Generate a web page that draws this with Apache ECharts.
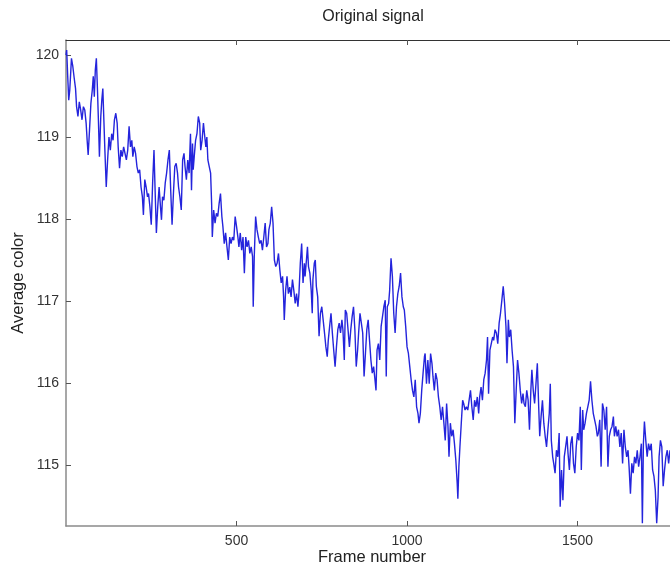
<!DOCTYPE html>
<html>
<head>
<meta charset="utf-8">
<script src="https://cdn.jsdelivr.net/npm/echarts@6/dist/echarts.min.js"></script>
<style>
html,body{margin:0;padding:0;background:#fff;}
#chart{width:670px;height:567px;}
</style>
</head>
<body>
<div id="chart"></div>
<script>
// Data: [frame, average colour]
var seg1 = [[0,120.00],[2,120.06],[5,119.74],[8,119.45],[11,119.57],[14,119.80],[16,119.96],[20,119.86],[24,119.72],[28,119.59],[31,119.37],[35,119.25],[39,119.43],[43,119.33],[47,119.21],[51,119.37],[55,119.33],[59,119.17],[62,118.96],[65,118.78],[69,119.09],[73,119.41],[77,119.57],[80,119.74],[83,119.49],[86,119.82],[89,119.96],[92,119.61],[95,119.21],[98,118.76],[102,119.25],[105,119.45],[108,119.59],[111,119.21],[114,118.84],[118,118.39],[122,118.72],[126,119.00],[130,118.84],[134,119.04],[138,118.96],[142,119.21],[146,119.29],[150,119.17],[153,118.88],[157,118.62],[161,118.84],[165,118.76],[169,118.88],[173,118.80],[177,118.72],[181,118.84],[185,119.13],[189,118.88],[193,118.96],[196,118.76],[200,118.88],[204,118.80],[208,118.64],[212,118.56],[216,118.60],[220,118.39],[224,118.27],[227,118.05],[231,118.48],[235,118.39],[239,118.27],[242,118.31],[246,118.15],[250,117.93],[254,118.44],[258,118.84],[261,118.39],[265,117.83],[269,118.15],[273,118.39],[277,118.15],[280,117.99],[283,118.27],[287,118.23],[291,118.44],[295,118.56],[299,118.72],[303,118.84],[307,118.35],[311,117.93],[315,118.31],[319,118.64],[323,118.68],[327,118.56],[330,118.39],[334,118.27],[338,118.11],[342,118.72],[346,118.80]];
var seg2 = [[349,118.64],[353,118.48],[357,118.72],[361,118.56],[365,119.04],[368,118.35],[371,118.92],[373,118.60],[376,118.76],[380,118.96],[384,119.04],[388,119.25],[392,119.17],[395,118.84],[399,118.96],[403,119.17],[406,119.04],[410,118.88],[413,119.00],[416,118.72],[420,118.64],[424,118.56],[427,118.19],[429,117.78],[433,118.11],[437,117.95],[441,118.07],[445,118.03],[449,118.19],[453,118.31],[457,118.03],[460,117.91],[464,117.70],[468,117.83],[472,117.66],[476,117.50],[480,117.78],[484,117.70],[488,117.78],[492,117.74],[496,118.03],[500,117.91],[504,117.78],[507,117.66],[511,117.83],[515,117.62],[519,117.78],[523,117.34],[527,117.78],[531,117.66],[535,117.74],[539,117.58],[543,117.66],[547,117.54],[549,116.93],[552,117.54],[556,118.03],[560,117.87],[564,117.78],[568,117.70],[572,117.74],[576,117.62],[580,117.78],[584,117.95],[588,117.66],[592,117.70],[595,117.87],[599,117.95],[603,118.15],[607,117.95],[611,117.50],[615,117.42],[619,117.46],[623,117.58],[627,117.38],[631,117.22],[635,117.30],[638,117.05],[640,116.77],[644,117.13],[648,117.30],[652,117.09],[656,117.17],[660,117.05],[664,117.26],[668,117.13],[672,116.97],[676,117.09],[680,116.93],[683,117.09],[687,117.46],[691,117.70],[695,117.22],[699,117.46]];
var seg3 = [[701,117.30],[705,117.50],[708,117.66],[711,117.42],[715,117.34],[719,117.13],[722,116.85],[724,117.26],[728,117.46],[731,117.50],[734,117.18],[738,117.05],[742,116.57],[746,116.85],[750,116.93],[754,116.77],[758,116.61],[762,116.44],[766,116.32],[769,116.52],[773,116.69],[777,116.85],[781,116.61],[785,116.40],[789,116.20],[793,116.44],[797,116.65],[801,116.73],[805,116.61],[809,116.77],[812,116.65],[816,116.28],[819,116.89],[823,116.85],[827,116.65],[831,116.44],[835,116.65],[839,116.81],[843,116.93],[847,116.65],[851,116.20],[855,116.40],[858,116.61],[862,116.85],[866,116.73],[870,116.61],[874,116.08],[878,116.36],[882,116.65],[886,116.77],[890,116.52],[894,116.28],[898,116.12],[902,116.20],[905,116.08],[909,115.91],[912,116.40],[916,116.48],[920,116.28],[924,116.69],[928,116.81],[932,116.93],[936,117.01],[939,116.08],[942,116.93],[946,116.97],[949,117.13],[953,117.52],[957,117.30],[961,116.85],[965,116.61],[969,116.93],[973,117.09],[977,117.18],[981,117.34],[985,117.05],[989,116.93],[992,116.89],[996,116.69],[1000,116.44],[1004,116.36],[1008,116.20],[1012,116.04],[1016,115.91],[1020,115.83],[1024,116.04],[1028,115.71],[1032,115.63],[1035,115.51],[1039,115.63],[1043,115.91],[1047,116.12],[1051,116.32]];
var seg4 = [[1053,116.36],[1057,115.99],[1061,116.28],[1065,115.99],[1069,116.36],[1073,116.24],[1076,116.08],[1080,115.91],[1084,116.12],[1088,116.04],[1092,115.83],[1096,115.71],[1100,115.55],[1104,115.71],[1108,115.51],[1112,115.30],[1116,115.75],[1120,115.47],[1123,115.10],[1127,115.51],[1131,115.35],[1135,115.43],[1139,115.26],[1143,115.06],[1147,114.78],[1149,114.59],[1152,114.98],[1155,115.22],[1159,115.51],[1163,115.79],[1166,115.75],[1170,115.67],[1174,115.71],[1178,115.67],[1182,115.79],[1186,115.91],[1190,115.71],[1194,115.55],[1198,115.79],[1202,115.71],[1206,115.83],[1210,115.63],[1213,115.83],[1217,115.95],[1221,115.79],[1225,116.04],[1229,116.12],[1233,116.28],[1236,116.56],[1239,115.87],[1243,116.40],[1247,116.48],[1251,116.56],[1254,116.52],[1258,116.65],[1262,116.61],[1266,116.48],[1270,116.73],[1274,116.85],[1278,117.01],[1282,117.18],[1286,116.97],[1290,116.69],[1293,116.24],[1297,116.77],[1300,116.56],[1304,116.65],[1308,116.40],[1312,116.20],[1316,115.51],[1320,115.91],[1324,116.28],[1328,116.12],[1332,115.91],[1336,115.75],[1340,115.87],[1343,115.75],[1347,115.71],[1351,115.91],[1355,115.79],[1359,115.43],[1363,115.91],[1366,116.16],[1370,115.91],[1374,115.75],[1378,115.99],[1382,116.24],[1386,115.71],[1389,115.35],[1393,115.59],[1397,115.79],[1401,115.51]];
var seg5 = [[1405,115.35],[1409,115.22],[1413,115.43],[1417,115.63],[1420,115.99],[1423,115.30],[1427,115.10],[1430,115.02],[1434,114.90],[1438,115.18],[1442,115.10],[1446,115.39],[1449,114.49],[1453,114.94],[1457,114.57],[1461,115.10],[1465,115.22],[1469,115.35],[1472,115.14],[1476,114.94],[1480,115.26],[1484,115.35],[1488,115.02],[1492,114.90],[1496,115.22],[1500,115.39],[1504,115.30],[1508,115.71],[1511,114.94],[1515,115.67],[1518,115.43],[1522,115.51],[1526,115.63],[1530,115.71],[1534,115.79],[1538,116.02],[1542,115.79],[1546,115.63],[1550,115.55],[1554,115.47],[1558,115.35],[1561,115.39],[1565,115.55],[1569,114.98],[1573,115.75],[1577,115.67],[1581,115.43],[1585,115.71],[1589,114.98],[1593,115.35],[1597,115.43],[1601,115.47],[1605,115.59],[1608,115.35],[1612,115.47],[1616,115.35],[1620,115.43],[1624,115.22],[1628,115.39],[1632,115.02],[1636,115.43],[1640,115.22],[1644,115.10],[1648,115.18],[1651,114.98],[1655,114.65],[1659,115.02],[1663,114.90],[1667,115.10],[1671,115.02],[1675,115.18],[1679,114.98],[1683,115.10],[1687,115.26],[1690,114.29],[1693,115.26],[1696,115.53],[1700,115.30],[1704,115.10],[1708,115.26],[1712,115.18],[1716,115.26],[1720,114.94],[1724,114.86],[1728,114.69],[1732,114.29],[1736,114.61],[1739,115.10],[1743,115.30],[1747,115.22],[1751,114.74],[1755,114.94],[1759,115.10],[1763,115.18],[1767,115.02],[1771,115.18]];

var xTicks = [500, 1000, 1500];
var yTicks = [115, 116, 117, 118, 119, 120];
var titleText = 'Original signal';
var xName = 'Frame number';
var yName = 'Average color';

var signal = seg1.concat(seg2, seg3, seg4, seg5);

var chart = echarts.init(document.getElementById('chart'), null, {renderer: 'canvas'});
var font = 'Liberation Sans, Arial, Helvetica, sans-serif';
var plain = function (v) { return String(v); };
var option = {
  animation: false,
  backgroundColor: '#ffffff',
  grid: {left: 66, right: 0, top: 40, bottom: 41, containLabel: false, outerBoundsMode: 'none'},
  graphic: [{
    type: 'text', x: 373, y: 9,
    style: {text: titleText, fill: '#222', font: '16px ' + font, textAlign: 'center'}
  }, {
    type: 'text', x: 372, y: 557,
    style: {text: xName, fill: '#222', font: '16.5px ' + font, textAlign: 'center', textVerticalAlign: 'middle'}
  }, {
    type: 'text', x: 18, y: 283, rotation: Math.PI / 2,
    style: {text: yName, fill: '#222', font: '16.5px ' + font, textAlign: 'center', textVerticalAlign: 'middle'}
  }],
  xAxis: [{
    type: 'value', min: 0, max: 1771, position: 'bottom',
    axisLine: {show: true, lineStyle: {color: '#8a8a8a', width: 1.5}},
    axisTick: {show: true, inside: true, length: 5, customValues: xTicks, lineStyle: {color: '#555'}},
    axisLabel: {show: true, customValues: xTicks, formatter: plain, color: '#333', fontSize: 14, fontFamily: font, margin: 8},
    splitLine: {show: false}
  }, {
    type: 'value', min: 0, max: 1771, position: 'top',
    axisLine: {show: true, lineStyle: {color: '#333', width: 1}},
    axisTick: {show: true, inside: true, length: 5, customValues: xTicks, lineStyle: {color: '#555'}},
    axisLabel: {show: false},
    splitLine: {show: false}
  }],
  yAxis: [{
    type: 'value', min: 114.256, max: 120.183,
    axisLine: {show: true, lineStyle: {color: '#8a8a8a', width: 1.5}},
    axisTick: {show: true, inside: true, length: 5, customValues: yTicks, lineStyle: {color: '#555'}},
    axisLabel: {show: true, customValues: yTicks, formatter: plain, color: '#333', fontSize: 14, fontFamily: font, margin: 7},
    splitLine: {show: false}
  }],
  series: [{
    type: 'line', xAxisIndex: 0, yAxisIndex: 0,
    data: signal, showSymbol: false, symbol: 'none', clip: true,
    lineStyle: {color: '#2424dc', width: 1.4},
    silent: true
  }]
};
chart.setOption(option);
</script>
</body>
</html>
